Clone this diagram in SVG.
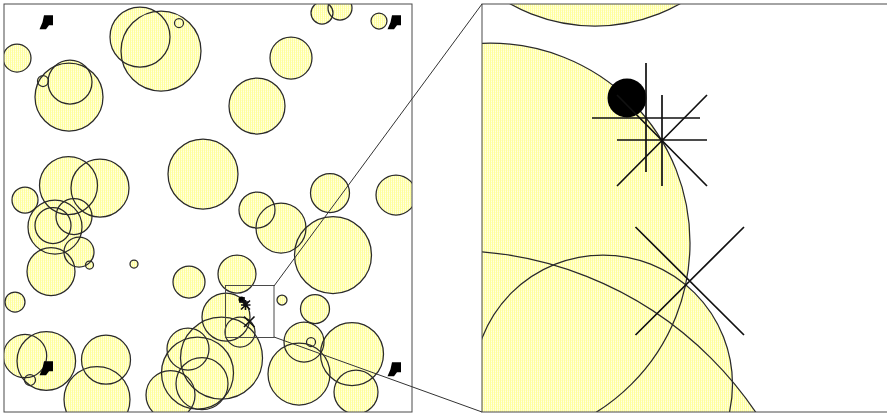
<svg xmlns="http://www.w3.org/2000/svg" width="887" height="415" viewBox="0 0 887 415">
<defs>
<pattern id="h" width="2" height="2" patternUnits="userSpaceOnUse">
<rect x="0" y="0" width="2" height="2" fill="#ffffe2"/>
<rect x="0" y="0" width="1" height="2" fill="#ffff9e"/>
<rect x="1" y="0" width="1" height="1" fill="#ffffc8"/>
</pattern>
<clipPath id="cl"><rect x="4" y="4" width="408" height="408"/></clipPath>
<clipPath id="cr"><rect x="482" y="4" width="410" height="408"/></clipPath>
<path id="m" d="M-2.5,-7 L6.5,-7 L6.5,3 L2.5,3 L-0.5,7 L-7,7 L-4,0 Z" fill="#000"/>
<g id="cm">
<circle cx="140" cy="37" r="30"/>
<circle cx="161" cy="51" r="40"/>
<circle cx="179" cy="23" r="4.5"/>
<circle cx="17" cy="58" r="14"/>
<circle cx="43" cy="81" r="5.5"/>
<circle cx="70" cy="82" r="22"/>
<circle cx="69" cy="97" r="34"/>
<circle cx="291" cy="58" r="21"/>
<circle cx="257" cy="106" r="28"/>
<circle cx="322" cy="13" r="11"/>
<circle cx="340" cy="8" r="12"/>
<circle cx="379" cy="21" r="8"/>
<circle cx="203" cy="174" r="35"/>
<circle cx="68.5" cy="185.5" r="29"/>
<circle cx="100" cy="188" r="29"/>
<circle cx="25" cy="200" r="13"/>
<circle cx="55" cy="227" r="27"/>
<circle cx="53" cy="225.5" r="18"/>
<circle cx="74" cy="216.5" r="18"/>
<circle cx="79" cy="252" r="15"/>
<circle cx="89.5" cy="265" r="4"/>
<circle cx="51" cy="271.5" r="24"/>
<circle cx="134" cy="264" r="4"/>
<circle cx="189" cy="282" r="16"/>
<circle cx="15" cy="302" r="10"/>
<circle cx="330" cy="193" r="19.5"/>
<circle cx="396" cy="195" r="20"/>
<circle cx="257" cy="210" r="18"/>
<circle cx="281" cy="228" r="25"/>
<circle cx="333" cy="255" r="38.5"/>
<circle cx="237" cy="274" r="19"/>
<circle cx="282" cy="300" r="5"/>
<circle cx="315" cy="309" r="14.5"/>
<circle cx="304" cy="342" r="20"/>
<circle cx="311" cy="342" r="4.5"/>
<circle cx="352" cy="354" r="31.5"/>
<circle cx="299" cy="374" r="31"/>
<circle cx="356" cy="392" r="22"/>
<circle cx="25" cy="356" r="21.7"/>
<circle cx="46.3" cy="361" r="29.3"/>
<circle cx="30" cy="380" r="5.5"/>
<circle cx="106" cy="359.7" r="24.5"/>
<circle cx="97" cy="399.5" r="33"/>
<circle cx="226" cy="317" r="24"/>
<circle cx="240" cy="332" r="15"/>
<circle cx="221.5" cy="358" r="41"/>
<circle cx="188" cy="349" r="21"/>
<circle cx="197.5" cy="373" r="36"/>
<circle cx="202" cy="383.7" r="26"/>
<circle cx="170.5" cy="395" r="24.5"/>
</g>
<g id="cz">
<circle cx="595" cy="-147.5" r="173.5"/>
<circle cx="490.3" cy="242.9" r="199.7"/>
<circle cx="603" cy="384.5" r="129.5"/>
<circle cx="451.5" cy="617.6" r="367"/>
</g>
</defs>
<style>
.fill{fill:url(#h);stroke:none}
.line{fill:none;stroke:#2a2a2a;stroke-width:1.25}
.frame{fill:none;stroke:#4a4a4a;stroke-width:1}
.con{stroke:#333;stroke-width:1;fill:none}
.mk{stroke:#111;stroke-width:1.7;fill:none}
.mks{stroke:#111;stroke-width:1.6;fill:none}
</style>
<rect width="887" height="415" fill="#fff"/>
<g id="main-panel" clip-path="url(#cl)">
<use href="#cm" class="fill"/>
<use href="#cm" class="line"/>
<use href="#m" x="46.5" y="22.3"/>
<use href="#m" x="394.5" y="22.3"/>
<use href="#m" x="394.5" y="369.3"/>
<use href="#m" x="46.5" y="368.3"/>
<g id="inset-markers">
<circle cx="241.5" cy="299.5" r="3" fill="#000"/>
<path class="mks" d="M239,302H249M244,297V307M241,305H250.5M245.5,300V310M241,300.5L250,309.5M241,309.5L250,300.5"/>
<path class="mks" d="M244,316.5L254.5,327M244,327L254.5,316.5"/>
</g>
</g>
<rect class="frame" x="4" y="4" width="408" height="408"/>
<rect class="frame" x="225.5" y="285.5" width="48.5" height="52"/>
<g id="right-panel" clip-path="url(#cr)">
<use href="#cz" class="fill"/>
<use href="#cz" class="line"/>
<circle cx="627" cy="98" r="19.5" fill="#000"/>
<path class="mk" d="M592,118H700M646,63V172"/>
<path class="mk" d="M617,140H707M662,95V186M617,95L707,186M617,186L707,95"/>
<path class="mk" d="M635.5,227L744,335M635.5,335L744,227"/>
</g>
<rect class="frame" x="482" y="4" width="420" height="408"/>
<g id="connectors">
<line class="con" x1="274" y1="286" x2="482" y2="4"/>
<line class="con" x1="274" y1="337" x2="482" y2="412"/>
</g>
</svg>
